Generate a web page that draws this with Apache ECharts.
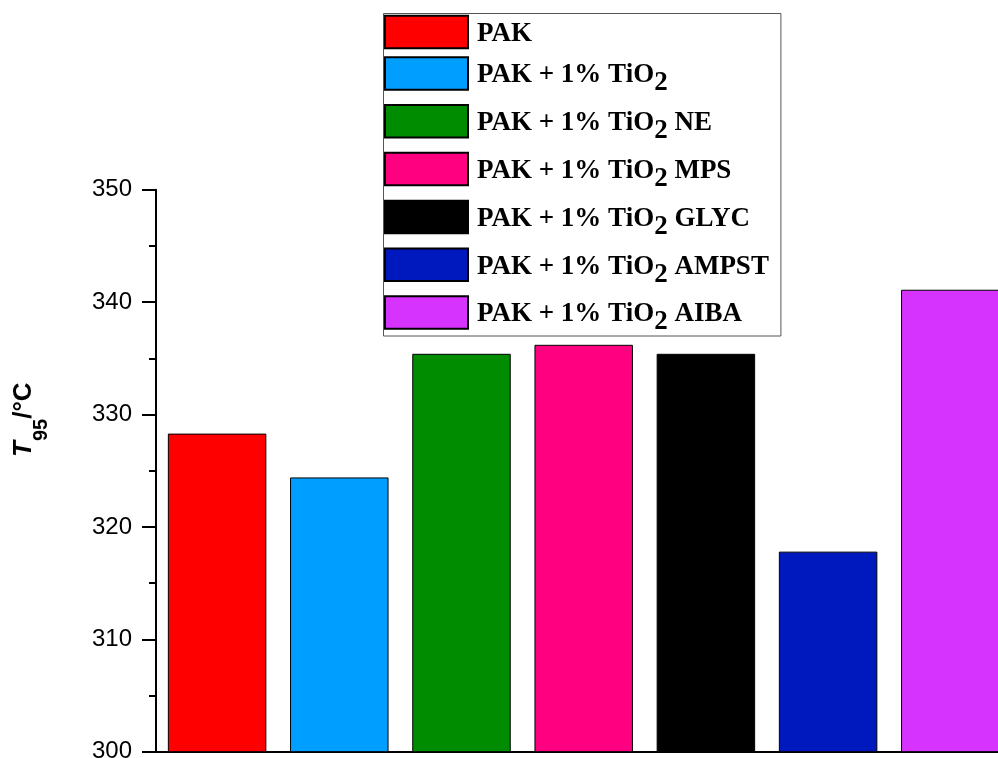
<!DOCTYPE html>
<html>
<head>
<meta charset="utf-8">
<script src="https://cdn.jsdelivr.net/npm/echarts@6/dist/echarts.min.js"></script>
<style>
  html, body { margin: 0; padding: 0; background: #fff; }
  #chart { width: 998px; height: 758px; }
</style>
</head>
<body>
<div id="chart"></div>
<script>
// ---- data ----
const categories = [
  'PAK',
  'PAK + 1% TiO2',
  'PAK + 1% TiO2 NE',
  'PAK + 1% TiO2 MPS',
  'PAK + 1% TiO2 GLYC',
  'PAK + 1% TiO2 AMPST',
  'PAK + 1% TiO2 AIBA'
];
const values = [328.3, 324.4, 335.4, 336.2, 335.4, 317.8, 341.1];
const yTicks = [300, 310, 320, 330, 340, 350];

// ---- styles ----
const palette = ['#FF0000', '#009FFF', '#008C00', '#FF0080', '#000000', '#0019BF', '#D633FF'];

const series = categories.map(function (name, i) {
  return {
    name: name,
    type: 'bar',
    barGap: '-100%',
    barCategoryGap: '19.4%',
    itemStyle: { color: palette[i], borderColor: '#000', borderWidth: 1 },
    data: values.map(function (v, j) { return j === i ? v : '-'; })
  };
});

function legendFormatter(name) {
  const idx = name.indexOf('TiO2');
  if (idx < 0) return '{f|' + name + '}';
  const before = name.slice(0, idx) + 'TiO';
  const after = name.slice(idx + 4);
  let s = '{f|' + before + '}{s|2}';
  if (after.length) s += '{b|' + after + '}';
  return s;
}

const legendFont = { fontFamily: 'Liberation Serif', fontWeight: 'bold', fontSize: 27, color: '#000', lineHeight: 26 };

const chart = echarts.init(document.getElementById('chart'));
chart.setOption({
  animation: false,
  backgroundColor: '#fff',
  color: palette,
  grid: {
    left: 156, top: 189.7, right: -13.4, bottom: 6.3,
    containLabel: false,
    outerBoundsMode: 'none'
  },
  legend: {
    orient: 'vertical',
    left: 383.5,
    top: 13.5,
    padding: [1.2, 12, 0, 0.5],
    borderColor: '#555',
    borderWidth: 1,
    itemWidth: 83,
    itemHeight: 32.5,
    itemGap: 0.8,
    icon: 'rect',
    data: categories,
    formatter: legendFormatter,
    textStyle: {
      color: '#000',
      rich: {
        f: Object.assign({}, legendFont, { padding: [4, 0, 0, 4] }),
        b: Object.assign({}, legendFont, { padding: [4, 0, 0, 0] }),
        s: Object.assign({}, legendFont, { padding: [20, 0, 0, 0] })
      }
    }
  },
  xAxis: {
    type: 'category',
    data: categories,
    axisLine: { show: true, lineStyle: { color: '#000', width: 2 } },
    axisTick: { show: false },
    axisLabel: { show: false },
    splitLine: { show: false }
  },
  yAxis: {
    type: 'value',
    min: yTicks[0],
    max: yTicks[yTicks.length - 1],
    interval: 10,
    name: '{t|T}{s|95}{c|/°C}',
    nameLocation: 'middle',
    nameRotate: 90,
    nameGap: 119,
    nameTextStyle: {
      padding: [0, 0, 0, 102],
      rich: {
        t: { fontFamily: 'Liberation Sans', fontWeight: 'bold', fontStyle: 'italic', fontSize: 26, color: '#000', lineHeight: 26 },
        s: { fontFamily: 'Liberation Sans', fontWeight: 'bold', fontSize: 20, color: '#000', lineHeight: 26, padding: [34, 0, 0, 0] },
        c: { fontFamily: 'Liberation Sans', fontWeight: 'bold', fontSize: 26, color: '#000', lineHeight: 26 }
      }
    },
    axisLine: { show: true, lineStyle: { color: '#000', width: 2 } },
    axisTick: { show: true, inside: false, length: 14, lineStyle: { color: '#000', width: 2 } },
    minorTick: { show: true, splitNumber: 2, length: 7, lineStyle: { color: '#000', width: 2 } },
    axisLabel: { color: '#000', fontFamily: 'Liberation Sans', fontSize: 24, margin: 24 },
    splitLine: { show: false },
    minorSplitLine: { show: false }
  },
  series: series
});
</script>
</body>
</html>
